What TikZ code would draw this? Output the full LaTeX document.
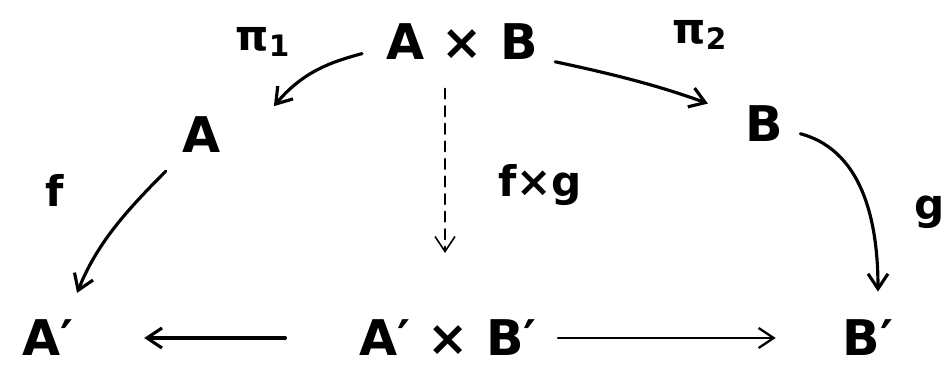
\documentclass[tikz,border=0pt]{standalone}
\usepackage{fontspec}
\setmainfont{DejaVu Sans}
\usetikzlibrary{arrows.meta, positioning}

\begin{document}
\begin{tikzpicture}[
    x=0.02cm, y=-0.02cm,
    obj/.style={inner sep=6pt, font=\fontsize{28}{32}\bfseries\selectfont},
    lbl/.style={inner sep=0pt, font=\fontsize{24}{28}\bfseries\selectfont},
    map/.style={-{Straight Barb[length=3mm, width=4mm]}, line width=1.8pt, line cap=round},
    dmap/.style={map, line width=0.9pt, dash pattern=on 6pt off 4pt},
]
\useasboundingbox (0,0) rectangle (944,367);

% Objects
\node[obj] (ab) at (462, 42) {A × B};
\node[obj] (a) at (202, 135) {A};
\node[obj] (b) at (764, 124) {B};
\node[obj] (a2) at (48, 338) {A′};
\node[obj] (ab2) at (448, 338) {A′ × B′};
\node[obj] (b2) at (868, 338) {B′};

% Labels
\node[lbl] (pi1) at (263, 42) {π\textsubscript{1}};
\node[lbl] (pi2) at (700, 35) {π\textsubscript{2}};
\node[lbl] (f) at (55, 190) {f};
\node[lbl] (g) at (930, 212) {g};
\node[lbl] (fg) at (540, 185) {f×g};

% Maps
\draw[map, shorten <=8pt] ([yshift=-0.16cm]ab.west) to[out=195, in=50] ([xshift=0.84cm]a.north east);
\draw[map, shorten <=4pt, shorten >=16pt] (ab) to[out=-12, in=160] (b);
\draw[map, shorten <=6pt, shorten >=10pt] (a) to[out=-135, in=68] ([xshift=0.45cm]a2.north);
\draw[map, shorten <=4pt, shorten >=10pt] (b) to[out=-15, in=90] ([xshift=0.2cm]b2.north);
\draw[dmap, shorten <=10pt, shorten >=32pt] ([xshift=-0.34cm]ab.south) -- ([xshift=-0.06cm]ab2.north);
\draw[map, shorten <=36pt, shorten >=34pt] (ab2) -- (a2);
\draw[map, line width=1.3pt, shorten <=6pt, shorten >=32pt] (ab2) -- (b2);

\end{tikzpicture}
\end{document}
